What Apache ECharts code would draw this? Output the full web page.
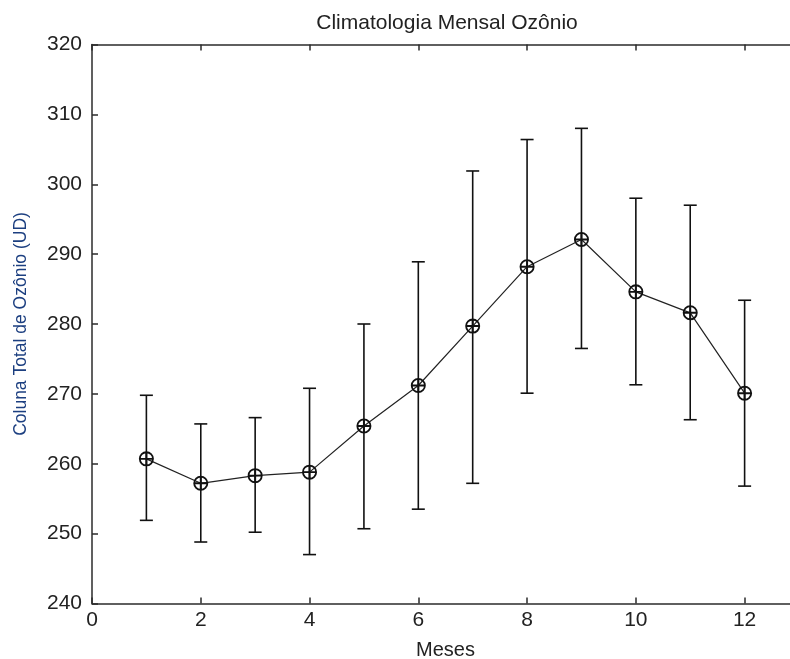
<!DOCTYPE html>
<html>
<head>
<meta charset="utf-8">
<script src="https://cdn.jsdelivr.net/npm/echarts@6/dist/echarts.min.js"></script>
<style>
  html, body { margin: 0; padding: 0; background: #fff; }
  #chart { width: 790px; height: 659px; }
</style>
</head>
<body>
<div id="chart"></div>
<script>
// dados
const meses = [1, 2, 3, 4, 5, 6, 7, 8, 9, 10, 11, 12]
const ozonioMedia = [260.7, 257.2, 258.3, 258.8, 265.4, 271.2, 279.7, 288.2, 292.1, 284.6, 281.6, 270.1]
const ozonioSup = [269.8, 265.7, 266.6, 270.8, 280.0, 288.9, 301.9, 306.4, 308.0, 298.0, 297.0, 283.4]
const ozonioInf = [251.9, 248.8, 250.2, 247.0, 250.7, 253.5, 257.2, 270.1, 276.5, 271.3, 266.3, 256.8]
const xTicks = [0, 2, 4, 6, 8, 10, 12]
const yTicks = [240, 250, 260, 270, 280, 290, 300, 310, 320]

const chart = echarts.init(document.getElementById('chart'))
const fonte = '"Liberation Sans", Arial, sans-serif'
const corEixo = '#2b2b2b'

const linhaMedia = meses.map((m, i) => [m, ozonioMedia[i]])
const barras = meses.map((m, i) => [m, ozonioInf[i], ozonioSup[i]])

// marcador: círculo com cruz
const marcador = 'path://M10,0A10,10 0 1,1 9.99,0ZM10,2.4A7.6,7.6 0 1,0 10.01,2.4ZM8.7,1H11.3V19H8.7ZM1,8.7H19V11.3H1Z'

const eixoX = (pos, comLabel) => ({
  type: 'value',
  position: pos,
  min: 0,
  max: 13,
  interval: 2,
  axisLine: { show: true, onZero: false, lineStyle: { color: corEixo, width: 1.5 } },
  axisTick: { show: true, inside: true, length: 6, lineStyle: { color: corEixo, width: 1.5 } },
  axisLabel: {
    show: comLabel,
    showMaxLabel: false,
    color: '#222',
    fontFamily: fonte,
    fontSize: 21,
    margin: 6,
    formatter: v => (xTicks.includes(v) ? String(v) : '')
  },
  splitLine: { show: false }
})

chart.setOption({
  backgroundColor: '#fff',
  animation: false,
  title: {
    text: 'Climatologia Mensal Ozônio',
    left: 442,
    top: 8,
    textAlign: 'center',
    textStyle: { fontFamily: fonte, fontSize: 21, fontWeight: 'normal', color: '#222' }
  },
  grid: { left: 92, top: 44.5, width: 707, height: 559, outerBoundsMode: 'none', containLabel: false },
  xAxis: [
    Object.assign(eixoX('bottom', true), {
      name: 'Meses',
      nameLocation: 'middle',
      nameGap: 37,
      nameTextStyle: { fontFamily: fonte, fontSize: 20, color: '#222' }
    }),
    eixoX('top', false)
  ],
  yAxis: {
    type: 'value',
    min: 240,
    max: 320,
    interval: 10,
    name: 'Coluna Total de Ozônio (UD)',
    nameLocation: 'middle',
    nameGap: 62,
    nameTextStyle: { fontFamily: fonte, fontSize: 17.5, color: '#1c3f80' },
    axisLine: { show: true, lineStyle: { color: corEixo, width: 1.5 } },
    axisTick: { show: true, inside: true, length: 6, lineStyle: { color: corEixo, width: 1.5 } },
    axisLabel: {
      color: '#222',
      fontFamily: fonte,
      fontSize: 21,
      margin: 10,
      formatter: v => (yTicks.includes(v) ? String(v) : '')
    },
    splitLine: { show: false }
  },
  series: [
    {
      name: 'erro',
      type: 'custom',
      data: barras,
      encode: { x: 0, y: [1, 2] },
      z: 2,
      renderItem: (params, api) => {
        const x = api.value(0)
        const baixo = api.coord([x, api.value(1)])
        const alto = api.coord([x, api.value(2)])
        const w = 6.5
        const estilo = { stroke: '#111', lineWidth: 1.6 }
        return {
          type: 'group',
          children: [
            { type: 'line', shape: { x1: alto[0], y1: alto[1], x2: baixo[0], y2: baixo[1] }, style: estilo },
            { type: 'line', shape: { x1: alto[0] - w, y1: alto[1], x2: alto[0] + w, y2: alto[1] }, style: estilo },
            { type: 'line', shape: { x1: baixo[0] - w, y1: baixo[1], x2: baixo[0] + w, y2: baixo[1] }, style: estilo }
          ]
        }
      }
    },
    {
      name: 'média',
      type: 'line',
      data: linhaMedia,
      z: 3,
      symbol: marcador,
      symbolSize: 15,
      showAllSymbol: true,
      lineStyle: { color: '#222', width: 1.2 },
      itemStyle: { color: '#111', borderWidth: 0 }
    }
  ]
})
</script>
</body>
</html>
